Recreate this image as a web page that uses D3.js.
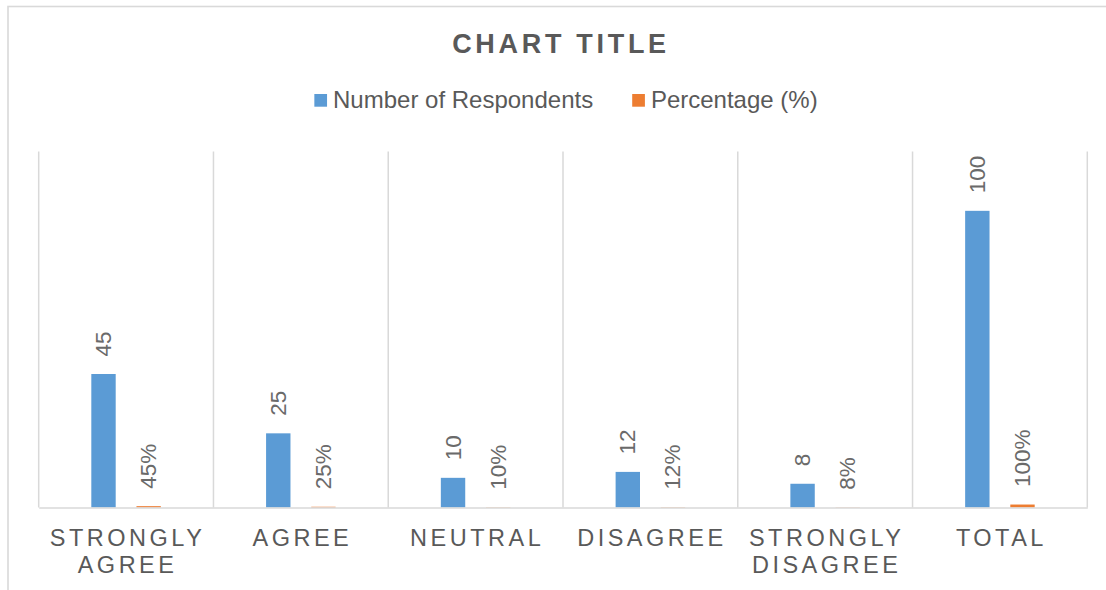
<!DOCTYPE html>
<html>
<head>
<meta charset="utf-8">
<script src="https://cdn.jsdelivr.net/npm/d3@7"></script>
<style>
  html, body { margin: 0; padding: 0; background: #fff; }
  svg { display: block; }
  text { font-family: "Liberation Sans", Arial, sans-serif; fill: #595959; }
</style>
</head>
<body>
<script>
const categories = [["STRONGLY", "AGREE"], ["AGREE"], ["NEUTRAL"], ["DISAGREE"], ["STRONGLY", "DISAGREE"], ["TOTAL"]];
const seriesNames = ["Number of Respondents", "Percentage (%)"];
const respondents = [45, 25, 10, 12, 8, 100];
const percentages = [0.45, 0.25, 0.10, 0.12, 0.08, 1.00];
const percentLabels = ["45%", "25%", "10%", "12%", "8%", "100%"];
const colors = ["#5b9bd5", "#ed7d31"];
const chartTitle = "CHART TITLE";

const W = 1106, H = 590;
const svg = d3.select("body").append("svg").attr("width", W).attr("height", H);

// outer chart border
svg.append("rect").attr("x", 8).attr("y", 6.5).attr("width", 1120).attr("height", 620)
  .attr("fill", "none").attr("stroke", "#d9d9d9").attr("stroke-width", 1.6);

const plot = { left: 38.7, right: 1087.3, top: 151.5, bottom: 507.5 };
const catKeys = categories.map((c, i) => i);

const x0 = d3.scaleBand().domain(catKeys).range([plot.left, plot.right]).padding(0);
const x1 = d3.scaleBand().domain([0, 1]).range([0, x0.bandwidth()]).paddingInner(0.46).paddingOuter(1.165);
const y = d3.scaleLinear().domain([0, 120]).range([plot.bottom, plot.top]);

// vertical gridlines at category boundaries
const bounds = catKeys.map(k => x0(k)).concat([plot.right]);
svg.append("g").selectAll("line").data(bounds).join("line")
  .attr("x1", d => d).attr("x2", d => d)
  .attr("y1", plot.top).attr("y2", plot.bottom)
  .attr("stroke", "#d9d9d9").attr("stroke-width", 1.5);

// bars
const rows = catKeys.map(k => ({ k, vals: [respondents[k], percentages[k]], labels: [String(respondents[k]), percentLabels[k]] }));
const groups = svg.append("g").selectAll("g").data(rows).join("g")
  .attr("transform", d => `translate(${x0(d.k)},0)`);

groups.selectAll("rect").data(d => d.vals.map((v, s) => ({ v, s }))).join("rect")
  .attr("x", d => x1(d.s))
  .attr("width", x1.bandwidth())
  .attr("y", d => y(d.v))
  .attr("height", d => y(0) - y(d.v))
  .attr("fill", d => colors[d.s]);

// data labels (rotated)
groups.selectAll("text").data(d => d.vals.map((v, s) => ({ v, s, label: d.labels[s] }))).join("text")
  .attr("transform", d => `translate(${x1(d.s) + x1.bandwidth() / 2},${y(d.v) - 17.5}) rotate(-90)`)
  .attr("text-anchor", "start")
  .attr("dominant-baseline", "central")
  .style("font-size", "22.5px")
  .style("fill", "#6a6a6a")
  .text(d => d.label);

// baseline axis
const xAxis = d3.axisBottom(x0).tickSize(0).tickFormat("");
const axisG = svg.append("g").attr("transform", `translate(0,${plot.bottom})`).call(xAxis);
axisG.select(".domain").attr("stroke", "#d9d9d9").attr("stroke-width", 1.5);

// category labels
const catLabels = svg.append("g").selectAll("text").data(catKeys).join("text")
  .attr("text-anchor", "middle")
  .attr("x", k => x0(k) + x0.bandwidth() / 2 + 1.5)
  .attr("y", 545.5)
  .style("font-size", "23.5px")
  .style("letter-spacing", "3.5px");
catLabels.selectAll("tspan").data(k => categories[k].map((t, i) => ({ t, i, k }))).join("tspan")
  .attr("x", d => x0(d.k) + x0.bandwidth() / 2 + 1.5)
  .attr("dy", d => d.i === 0 ? 0 : 27)
  .text(d => d.t);

// title
svg.append("text").attr("x", 561).attr("y", 52.5).attr("text-anchor", "middle")
  .style("font-size", "27px").style("font-weight", "bold").style("letter-spacing", "3.7px")
  .text(chartTitle);

// legend
const legend = svg.append("g");
const items = legend.selectAll("g").data(seriesNames).join("g");
items.append("rect").attr("width", 12.7).attr("height", 12.7).attr("y", 94)
  .attr("fill", (d, i) => colors[i]);
items.append("text").attr("x", 18.7).attr("y", 108)
  .style("font-size", "24px")
  .text(d => d);
const itemGap = 39;
const widths = [];
items.each(function () { widths.push(this.getBBox().width); });
const total = d3.sum(widths) + itemGap * (widths.length - 1);
const start = 566 - total / 2;
items.attr("transform", (d, i) => {
  const tx = start + d3.sum(widths.slice(0, i)) + itemGap * i;
  return `translate(${tx},0)`;
});
</script>
</body>
</html>
